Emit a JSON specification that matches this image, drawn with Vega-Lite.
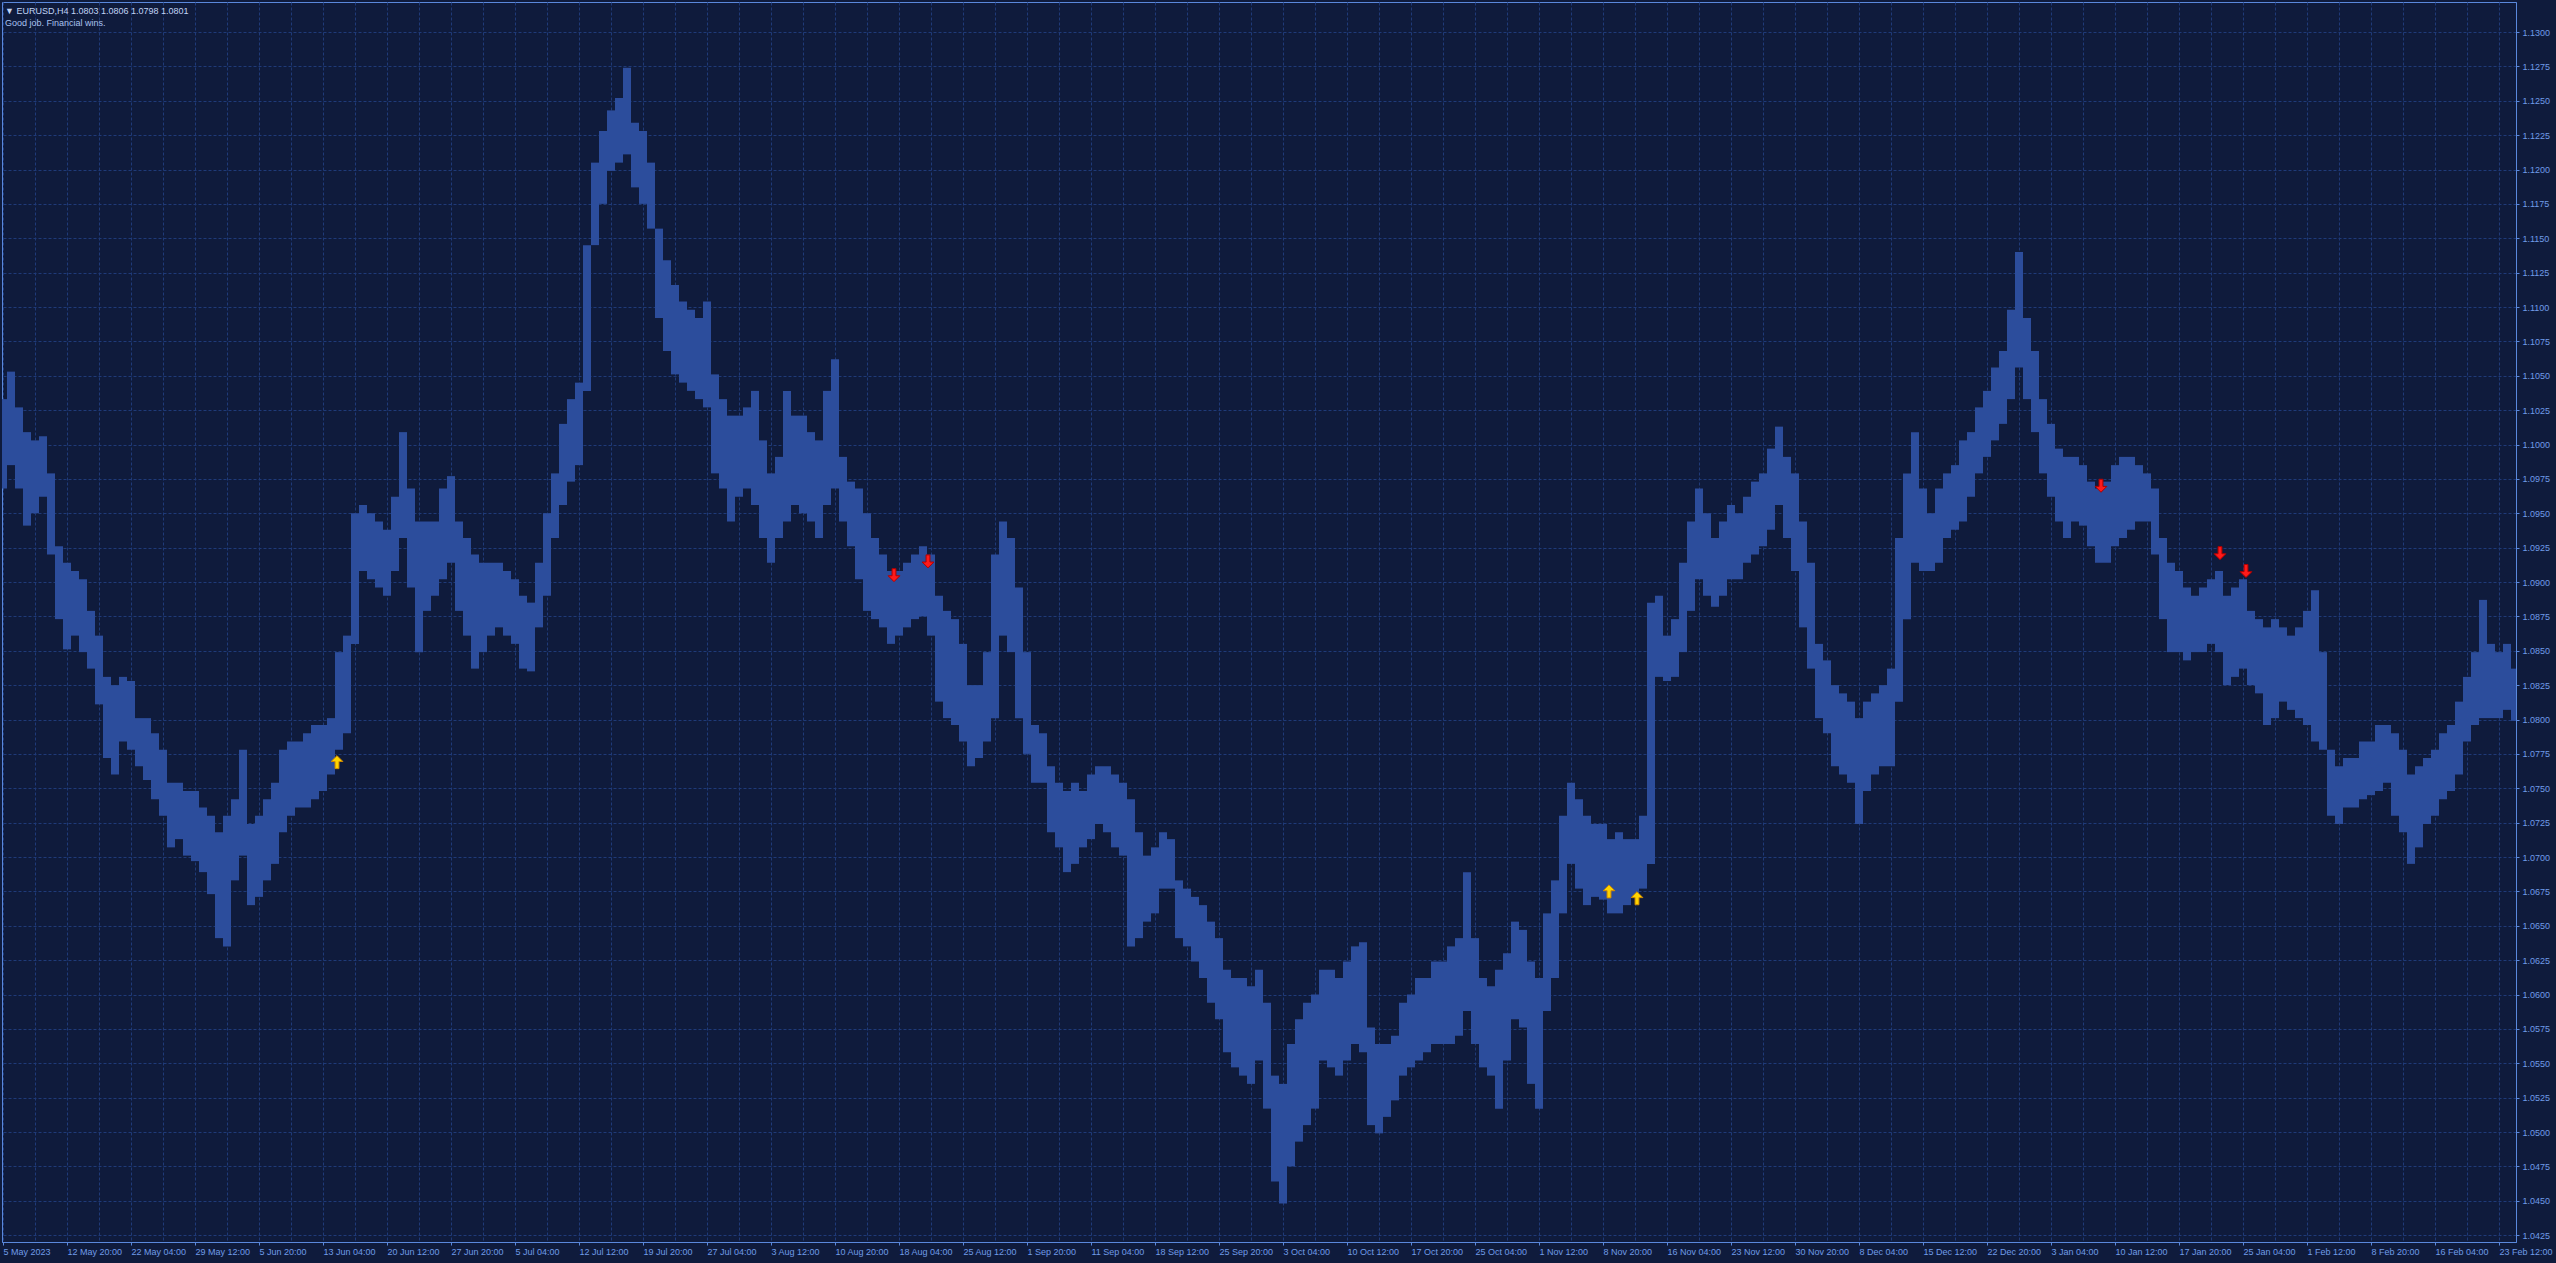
{
"$schema": "https://vega.github.io/schema/vega-lite/v6.json",
"width": 2514, "height": 1240,
"autosize": {"type": "none"},
"padding": {"left": 2, "top": 2, "right": 40, "bottom": 21},
"background": "#0f1b3c",
"config": {"view": {"stroke": "#5a88dc", "strokeWidth": 1}, "font": "Liberation Sans"},
"title": {"text": "▼  EURUSD,H4  1.0803 1.0806 1.0798 1.0801", "subtitle": "Good job. Financial wins.", "anchor": "start", "orient": "top", "frame": "group", "offset": -26, "dx": 3, "font": "Liberation Sans", "fontSize": 9, "fontWeight": "normal", "color": "#c0d4f5", "subtitleFont": "Liberation Sans", "subtitleFontSize": 9, "subtitleColor": "#a9c2f0", "subtitlePadding": 3},
"datasets": {
"bars": [
{"i":0,"hi":1.1033,"lo":1.0968},{"i":4,"hi":1.1053,"lo":1.0985},{"i":8,"hi":1.1027,"lo":1.0968},{"i":12,"hi":1.1009,"lo":1.0941},
{"i":16,"hi":1.1003,"lo":1.0950},{"i":20,"hi":1.1006,"lo":1.0962},{"i":24,"hi":1.0979,"lo":1.0920},{"i":28,"hi":1.0926,"lo":1.0873},
{"i":32,"hi":1.0914,"lo":1.0851},{"i":36,"hi":1.0908,"lo":1.0861},{"i":40,"hi":1.0902,"lo":1.0849},{"i":44,"hi":1.0879,"lo":1.0837},
{"i":48,"hi":1.0861,"lo":1.0811},{"i":52,"hi":1.0831,"lo":1.0772},{"i":56,"hi":1.0825,"lo":1.0760},{"i":60,"hi":1.0831,"lo":1.0784},
{"i":64,"hi":1.0828,"lo":1.0778},{"i":68,"hi":1.0801,"lo":1.0766},{"i":72,"hi":1.0801,"lo":1.0756},{"i":76,"hi":1.0790,"lo":1.0742},
{"i":80,"hi":1.0778,"lo":1.0730},{"i":84,"hi":1.0754,"lo":1.0707},{"i":88,"hi":1.0754,"lo":1.0713},{"i":92,"hi":1.0748,"lo":1.0701},
{"i":96,"hi":1.0748,"lo":1.0697},{"i":100,"hi":1.0736,"lo":1.0689},{"i":104,"hi":1.0730,"lo":1.0673},{"i":108,"hi":1.0718,"lo":1.0641},
{"i":112,"hi":1.0730,"lo":1.0635},{"i":116,"hi":1.0742,"lo":1.0683},{"i":120,"hi":1.0778,"lo":1.0701},{"i":124,"hi":1.0724,"lo":1.0665},
{"i":128,"hi":1.0730,"lo":1.0671},{"i":132,"hi":1.0742,"lo":1.0683},{"i":136,"hi":1.0754,"lo":1.0695},{"i":140,"hi":1.0778,"lo":1.0718},
{"i":144,"hi":1.0784,"lo":1.0730},{"i":148,"hi":1.0784,"lo":1.0736},{"i":152,"hi":1.0790,"lo":1.0736},{"i":156,"hi":1.0796,"lo":1.0742},
{"i":160,"hi":1.0796,"lo":1.0748},{"i":164,"hi":1.0801,"lo":1.0760},{"i":168,"hi":1.0849,"lo":1.0778},{"i":172,"hi":1.0861,"lo":1.0790},
{"i":176,"hi":1.0950,"lo":1.0855},{"i":180,"hi":1.0956,"lo":1.0908},{"i":184,"hi":1.0950,"lo":1.0902},{"i":188,"hi":1.0944,"lo":1.0896},
{"i":192,"hi":1.0938,"lo":1.0890},{"i":196,"hi":1.0962,"lo":1.0908},{"i":200,"hi":1.1009,"lo":1.0932},{"i":204,"hi":1.0968,"lo":1.0896},
{"i":208,"hi":1.0944,"lo":1.0849},{"i":212,"hi":1.0944,"lo":1.0879},{"i":216,"hi":1.0944,"lo":1.0890},{"i":220,"hi":1.0968,"lo":1.0902},
{"i":224,"hi":1.0977,"lo":1.0914},{"i":228,"hi":1.0944,"lo":1.0879},{"i":232,"hi":1.0932,"lo":1.0861},{"i":236,"hi":1.0920,"lo":1.0837},
{"i":240,"hi":1.0914,"lo":1.0849},{"i":244,"hi":1.0914,"lo":1.0861},{"i":248,"hi":1.0914,"lo":1.0867},{"i":252,"hi":1.0908,"lo":1.0861},
{"i":256,"hi":1.0902,"lo":1.0855},{"i":260,"hi":1.0890,"lo":1.0837},{"i":264,"hi":1.0885,"lo":1.0835},{"i":268,"hi":1.0914,"lo":1.0867},
{"i":272,"hi":1.0950,"lo":1.0890},{"i":276,"hi":1.0979,"lo":1.0932},{"i":280,"hi":1.1015,"lo":1.0956},{"i":284,"hi":1.1033,"lo":1.0973},
{"i":288,"hi":1.1045,"lo":1.0985},{"i":292,"hi":1.1145,"lo":1.1039},{"i":296,"hi":1.1205,"lo":1.1145},{"i":300,"hi":1.1228,"lo":1.1175},
{"i":304,"hi":1.1243,"lo":1.1199},{"i":308,"hi":1.1252,"lo":1.1205},{"i":312,"hi":1.1274,"lo":1.1211},{"i":316,"hi":1.1234,"lo":1.1187},
{"i":320,"hi":1.1228,"lo":1.1175},{"i":324,"hi":1.1205,"lo":1.1157},{"i":328,"hi":1.1157,"lo":1.1092},{"i":332,"hi":1.1134,"lo":1.1068},
{"i":336,"hi":1.1116,"lo":1.1051},{"i":340,"hi":1.1104,"lo":1.1045},{"i":344,"hi":1.1098,"lo":1.1039},{"i":348,"hi":1.1092,"lo":1.1033},
{"i":352,"hi":1.1104,"lo":1.1027},{"i":356,"hi":1.1051,"lo":1.0979},{"i":360,"hi":1.1033,"lo":1.0968},{"i":364,"hi":1.1021,"lo":1.0944},
{"i":368,"hi":1.1021,"lo":1.0962},{"i":372,"hi":1.1027,"lo":1.0968},{"i":376,"hi":1.1039,"lo":1.0956},{"i":380,"hi":1.1003,"lo":1.0932},
{"i":384,"hi":1.0979,"lo":1.0914},{"i":388,"hi":1.0991,"lo":1.0932},{"i":392,"hi":1.1039,"lo":1.0944},{"i":396,"hi":1.1021,"lo":1.0956},
{"i":400,"hi":1.1021,"lo":1.0950},{"i":404,"hi":1.1009,"lo":1.0944},{"i":408,"hi":1.1003,"lo":1.0932},{"i":412,"hi":1.1039,"lo":1.0956},
{"i":416,"hi":1.1062,"lo":1.0968},{"i":420,"hi":1.0991,"lo":1.0944},{"i":424,"hi":1.0973,"lo":1.0926},{"i":428,"hi":1.0968,"lo":1.0902},
{"i":432,"hi":1.0950,"lo":1.0879},{"i":436,"hi":1.0932,"lo":1.0873},{"i":440,"hi":1.0920,"lo":1.0867},{"i":444,"hi":1.0908,"lo":1.0855},
{"i":448,"hi":1.0908,"lo":1.0861},{"i":452,"hi":1.0914,"lo":1.0867},{"i":456,"hi":1.0920,"lo":1.0873},{"i":460,"hi":1.0926,"lo":1.0875},
{"i":464,"hi":1.0920,"lo":1.0861},{"i":468,"hi":1.0890,"lo":1.0813},{"i":472,"hi":1.0879,"lo":1.0801},{"i":476,"hi":1.0873,"lo":1.0796},
{"i":480,"hi":1.0855,"lo":1.0784},{"i":484,"hi":1.0825,"lo":1.0766},{"i":488,"hi":1.0825,"lo":1.0772},{"i":492,"hi":1.0849,"lo":1.0784},
{"i":496,"hi":1.0920,"lo":1.0801},{"i":500,"hi":1.0944,"lo":1.0861},{"i":504,"hi":1.0932,"lo":1.0849},{"i":508,"hi":1.0896,"lo":1.0801},
{"i":512,"hi":1.0849,"lo":1.0775},{"i":516,"hi":1.0796,"lo":1.0754},{"i":520,"hi":1.0790,"lo":1.0754},{"i":524,"hi":1.0766,"lo":1.0718},
{"i":528,"hi":1.0754,"lo":1.0707},{"i":532,"hi":1.0748,"lo":1.0689},{"i":536,"hi":1.0754,"lo":1.0695},{"i":540,"hi":1.0748,"lo":1.0707},
{"i":544,"hi":1.0760,"lo":1.0713},{"i":548,"hi":1.0766,"lo":1.0724},{"i":552,"hi":1.0766,"lo":1.0718},{"i":556,"hi":1.0760,"lo":1.0707},
{"i":560,"hi":1.0754,"lo":1.0701},{"i":564,"hi":1.0742,"lo":1.0635},{"i":568,"hi":1.0718,"lo":1.0641},{"i":572,"hi":1.0701,"lo":1.0653},
{"i":576,"hi":1.0707,"lo":1.0659},{"i":580,"hi":1.0718,"lo":1.0677},{"i":584,"hi":1.0713,"lo":1.0677},{"i":588,"hi":1.0683,"lo":1.0641},
{"i":592,"hi":1.0677,"lo":1.0635},{"i":596,"hi":1.0671,"lo":1.0624},{"i":600,"hi":1.0665,"lo":1.0612},{"i":604,"hi":1.0653,"lo":1.0594},
{"i":608,"hi":1.0641,"lo":1.0582},{"i":612,"hi":1.0618,"lo":1.0558},{"i":616,"hi":1.0612,"lo":1.0547},{"i":620,"hi":1.0612,"lo":1.0541},
{"i":624,"hi":1.0606,"lo":1.0535},{"i":628,"hi":1.0618,"lo":1.0552},{"i":632,"hi":1.0594,"lo":1.0517},{"i":636,"hi":1.0541,"lo":1.0464},
{"i":640,"hi":1.0535,"lo":1.0448},{"i":644,"hi":1.0564,"lo":1.0475},{"i":648,"hi":1.0582,"lo":1.0493},{"i":652,"hi":1.0594,"lo":1.0505},
{"i":656,"hi":1.0600,"lo":1.0517},{"i":660,"hi":1.0618,"lo":1.0552},{"i":664,"hi":1.0618,"lo":1.0547},{"i":668,"hi":1.0612,"lo":1.0541},
{"i":672,"hi":1.0624,"lo":1.0552},{"i":676,"hi":1.0635,"lo":1.0564},{"i":680,"hi":1.0638,"lo":1.0558},{"i":684,"hi":1.0576,"lo":1.0505},
{"i":688,"hi":1.0564,"lo":1.0499},{"i":692,"hi":1.0564,"lo":1.0511},{"i":696,"hi":1.0570,"lo":1.0523},{"i":700,"hi":1.0594,"lo":1.0541},
{"i":704,"hi":1.0600,"lo":1.0547},{"i":708,"hi":1.0612,"lo":1.0552},{"i":712,"hi":1.0612,"lo":1.0558},{"i":716,"hi":1.0624,"lo":1.0564},
{"i":720,"hi":1.0624,"lo":1.0564},{"i":724,"hi":1.0635,"lo":1.0564},{"i":728,"hi":1.0641,"lo":1.0570},{"i":732,"hi":1.0689,"lo":1.0588},
{"i":736,"hi":1.0641,"lo":1.0564},{"i":740,"hi":1.0612,"lo":1.0547},{"i":744,"hi":1.0606,"lo":1.0541},{"i":748,"hi":1.0618,"lo":1.0517},
{"i":752,"hi":1.0630,"lo":1.0552},{"i":756,"hi":1.0653,"lo":1.0582},{"i":760,"hi":1.0647,"lo":1.0576},{"i":764,"hi":1.0624,"lo":1.0535},
{"i":768,"hi":1.0612,"lo":1.0517},{"i":772,"hi":1.0659,"lo":1.0588},{"i":776,"hi":1.0683,"lo":1.0612},{"i":780,"hi":1.0730,"lo":1.0659},
{"i":784,"hi":1.0754,"lo":1.0695},{"i":788,"hi":1.0742,"lo":1.0677},{"i":792,"hi":1.0730,"lo":1.0665},{"i":796,"hi":1.0724,"lo":1.0671},
{"i":800,"hi":1.0724,"lo":1.0669},{"i":804,"hi":1.0713,"lo":1.0659},{"i":808,"hi":1.0718,"lo":1.0659},{"i":812,"hi":1.0713,"lo":1.0665},
{"i":816,"hi":1.0713,"lo":1.0671},{"i":820,"hi":1.0730,"lo":1.0677},{"i":824,"hi":1.0885,"lo":1.0695},{"i":828,"hi":1.0890,"lo":1.0831},
{"i":832,"hi":1.0861,"lo":1.0828},{"i":836,"hi":1.0873,"lo":1.0831},{"i":840,"hi":1.0914,"lo":1.0849},{"i":844,"hi":1.0944,"lo":1.0879},
{"i":848,"hi":1.0968,"lo":1.0902},{"i":852,"hi":1.0950,"lo":1.0890},{"i":856,"hi":1.0932,"lo":1.0882},{"i":860,"hi":1.0944,"lo":1.0890},
{"i":864,"hi":1.0956,"lo":1.0902},{"i":868,"hi":1.0950,"lo":1.0902},{"i":872,"hi":1.0962,"lo":1.0914},{"i":876,"hi":1.0973,"lo":1.0920},
{"i":880,"hi":1.0979,"lo":1.0926},{"i":884,"hi":1.0997,"lo":1.0938},{"i":888,"hi":1.1013,"lo":1.0956},{"i":892,"hi":1.0991,"lo":1.0932},
{"i":896,"hi":1.0979,"lo":1.0908},{"i":900,"hi":1.0944,"lo":1.0867},{"i":904,"hi":1.0914,"lo":1.0837},{"i":908,"hi":1.0855,"lo":1.0801},
{"i":912,"hi":1.0843,"lo":1.0790},{"i":916,"hi":1.0825,"lo":1.0766},{"i":920,"hi":1.0819,"lo":1.0760},{"i":924,"hi":1.0813,"lo":1.0754},
{"i":928,"hi":1.0801,"lo":1.0724},{"i":932,"hi":1.0813,"lo":1.0748},{"i":936,"hi":1.0819,"lo":1.0760},{"i":940,"hi":1.0825,"lo":1.0766},
{"i":944,"hi":1.0837,"lo":1.0766},{"i":948,"hi":1.0932,"lo":1.0813},{"i":952,"hi":1.0979,"lo":1.0873},{"i":956,"hi":1.1009,"lo":1.0914},
{"i":960,"hi":1.0968,"lo":1.0908},{"i":964,"hi":1.0950,"lo":1.0908},{"i":968,"hi":1.0968,"lo":1.0914},{"i":972,"hi":1.0979,"lo":1.0932},
{"i":976,"hi":1.0985,"lo":1.0938},{"i":980,"hi":1.1003,"lo":1.0944},{"i":984,"hi":1.1009,"lo":1.0962},{"i":988,"hi":1.1027,"lo":1.0979},
{"i":992,"hi":1.1039,"lo":1.0991},{"i":996,"hi":1.1056,"lo":1.1003},{"i":1000,"hi":1.1068,"lo":1.1015},{"i":1004,"hi":1.1098,"lo":1.1033},
{"i":1008,"hi":1.1140,"lo":1.1056},{"i":1012,"hi":1.1092,"lo":1.1033},{"i":1016,"hi":1.1068,"lo":1.1009},{"i":1020,"hi":1.1033,"lo":1.0979},
{"i":1024,"hi":1.1015,"lo":1.0962},{"i":1028,"hi":1.0997,"lo":1.0944},{"i":1032,"hi":1.0991,"lo":1.0932},{"i":1036,"hi":1.0991,"lo":1.0944},
{"i":1040,"hi":1.0985,"lo":1.0941},{"i":1044,"hi":1.0973,"lo":1.0926},{"i":1048,"hi":1.0968,"lo":1.0914},{"i":1052,"hi":1.0973,"lo":1.0914},
{"i":1056,"hi":1.0985,"lo":1.0926},{"i":1060,"hi":1.0991,"lo":1.0932},{"i":1064,"hi":1.0991,"lo":1.0938},{"i":1068,"hi":1.0985,"lo":1.0944},
{"i":1072,"hi":1.0979,"lo":1.0944},{"i":1076,"hi":1.0968,"lo":1.0920},{"i":1080,"hi":1.0932,"lo":1.0873},{"i":1084,"hi":1.0914,"lo":1.0849},
{"i":1088,"hi":1.0908,"lo":1.0849},{"i":1092,"hi":1.0896,"lo":1.0843},{"i":1096,"hi":1.0890,"lo":1.0849},{"i":1100,"hi":1.0896,"lo":1.0849},
{"i":1104,"hi":1.0902,"lo":1.0855},{"i":1108,"hi":1.0908,"lo":1.0849},{"i":1112,"hi":1.0890,"lo":1.0825},{"i":1116,"hi":1.0896,"lo":1.0831},
{"i":1120,"hi":1.0902,"lo":1.0837},{"i":1124,"hi":1.0879,"lo":1.0825},{"i":1128,"hi":1.0873,"lo":1.0819},{"i":1132,"hi":1.0867,"lo":1.0796},
{"i":1136,"hi":1.0873,"lo":1.0801},{"i":1140,"hi":1.0867,"lo":1.0813},{"i":1144,"hi":1.0861,"lo":1.0807},{"i":1148,"hi":1.0867,"lo":1.0801},
{"i":1152,"hi":1.0879,"lo":1.0796},{"i":1156,"hi":1.0894,"lo":1.0784},{"i":1160,"hi":1.0849,"lo":1.0778},{"i":1164,"hi":1.0778,"lo":1.0730},
{"i":1168,"hi":1.0766,"lo":1.0724},{"i":1172,"hi":1.0772,"lo":1.0736},{"i":1176,"hi":1.0772,"lo":1.0736},{"i":1180,"hi":1.0784,"lo":1.0742},
{"i":1184,"hi":1.0784,"lo":1.0745},{"i":1188,"hi":1.0796,"lo":1.0748},{"i":1192,"hi":1.0796,"lo":1.0754},{"i":1196,"hi":1.0790,"lo":1.0730},
{"i":1200,"hi":1.0778,"lo":1.0718},{"i":1204,"hi":1.0760,"lo":1.0695},{"i":1208,"hi":1.0766,"lo":1.0707},{"i":1212,"hi":1.0772,"lo":1.0724},
{"i":1216,"hi":1.0778,"lo":1.0730},{"i":1220,"hi":1.0790,"lo":1.0742},{"i":1224,"hi":1.0796,"lo":1.0748},{"i":1228,"hi":1.0813,"lo":1.0760},
{"i":1232,"hi":1.0831,"lo":1.0784},{"i":1236,"hi":1.0849,"lo":1.0796},{"i":1240,"hi":1.0887,"lo":1.0801},{"i":1244,"hi":1.0855,"lo":1.0801},
{"i":1248,"hi":1.0849,"lo":1.0801},{"i":1252,"hi":1.0855,"lo":1.0807},{"i":1256,"hi":1.0837,"lo":1.0799}
],
"up": [{"i":167,"p":1.0769},{"i":803,"p":1.0675},{"i":817,"p":1.0670}],
"down": [{"i":445.5,"p":1.0905},{"i":462.5,"p":1.0915},{"i":1049,"p":1.0970},{"i":1108.5,"p":1.0921},{"i":1121.5,"p":1.0908}]
},
"layer": [
{"data": {"name": "bars"},
 "mark": {"type": "rule", "color": "#2c4d9c", "strokeWidth": 8, "strokeCap": "butt", "clip": true},
 "encoding": {
  "x": {"field": "i", "type": "quantitative", "scale": {"domain": [-0.5, 1256.5], "nice": false, "zero": false},
   "axis": {"orient": "bottom", "title": null, "tickCount": 500, "values": [0,16,32,48,64,80,96,112,128,144,160,176,192,208,224,240,256,272,288,304,320,336,352,368,384,400,416,432,448,464,480,496,512,528,544,560,576,592,608,624,640,656,672,688,704,720,736,752,768,784,800,816,832,848,864,880,896,912,928,944,960,976,992,1008,1024,1040,1056,1072,1088,1104,1120,1136,1152,1168,1184,1200,1216,1232,1248],
    "grid": true, "gridColor": "#1f3a78", "gridDash": [3, 2],
    "labelExpr": "datum.value % 32 == 0 ? ['5 May 2023','12 May 20:00','22 May 04:00','29 May 12:00','5 Jun 20:00','13 Jun 04:00','20 Jun 12:00','27 Jun 20:00','5 Jul 04:00','12 Jul 12:00','19 Jul 20:00','27 Jul 04:00','3 Aug 12:00','10 Aug 20:00','18 Aug 04:00','25 Aug 12:00','1 Sep 20:00','11 Sep 04:00','18 Sep 12:00','25 Sep 20:00','3 Oct 04:00','10 Oct 12:00','17 Oct 20:00','25 Oct 04:00','1 Nov 12:00','8 Nov 20:00','16 Nov 04:00','23 Nov 12:00','30 Nov 20:00','8 Dec 04:00','15 Dec 12:00','22 Dec 20:00','3 Jan 04:00','10 Jan 12:00','17 Jan 20:00','25 Jan 04:00','1 Feb 12:00','8 Feb 20:00','16 Feb 04:00','23 Feb 12:00'][round(datum.value/32)] : ''",
    "tickOpacity": {"condition": {"test": "datum.value % 32 == 0", "value": 1}, "value": 0},
    "labelAlign": "left", "labelBaseline": "top", "labelPadding": 2, "tickSize": 3, "tickColor": "#5a88dc", "domainColor": "#5a88dc", "labelColor": "#6f9ce8", "labelFont": "Liberation Sans", "labelFontSize": 9, "labelFlush": false, "labelOverlap": false, "labelBound": false}},
  "y": {"field": "lo", "type": "quantitative", "scale": {"domain": [1.042, 1.132182], "nice": false, "zero": false},
   "axis": {"orient": "right", "title": null, "tickCount": 500, "values": [1.0425,1.045,1.0475,1.05,1.0525,1.055,1.0575,1.06,1.0625,1.065,1.0675,1.07,1.0725,1.075,1.0775,1.08,1.0825,1.085,1.0875,1.09,1.0925,1.095,1.0975,1.1,1.1025,1.105,1.1075,1.11,1.1125,1.115,1.1175,1.12,1.1225,1.125,1.1275,1.13],
    "format": ".4f", "grid": true, "gridColor": "#1f3a78", "gridDash": [3, 2], "tickSize": 3, "tickColor": "#5a88dc", "domainColor": "#5a88dc", "labelPadding": 3, "labelColor": "#6f9ce8", "labelFont": "Liberation Sans", "labelFontSize": 9, "labelFlush": false, "labelOverlap": false}},
  "y2": {"field": "hi"}}},
{"mark": {"type": "rule", "color": "#2d4f9c", "strokeWidth": 1},
 "encoding": {"y": {"datum": 1.0801, "type": "quantitative"}}},
{"data": {"name": "up"},
 "mark": {"type": "point", "filled": true, "shape": "M0,-1L0.9,-0.1L0.3,-0.1L0.3,1L-0.3,1L-0.3,-0.1L-0.9,-0.1Z", "size": 169, "fill": "#ffd400", "stroke": "#d08a00", "strokeWidth": 1, "opacity": 1},
 "encoding": {
  "x": {"field": "i", "type": "quantitative"},
  "y": {"field": "p", "type": "quantitative"}}},
{"data": {"name": "down"},
 "mark": {"type": "point", "filled": true, "shape": "M0,1L0.9,0.1L0.3,0.1L0.3,-1L-0.3,-1L-0.3,0.1L-0.9,0.1Z", "size": 169, "fill": "#ff1a1a", "stroke": "#b00000", "strokeWidth": 1, "opacity": 1},
 "encoding": {
  "x": {"field": "i", "type": "quantitative"},
  "y": {"field": "p", "type": "quantitative"}}},
{"mark": {"type": "rect", "color": "#5d8fe8"},
 "encoding": {
  "x": {"datum": 1257, "type": "quantitative"}, "x2": {"datum": 1275.5},
  "y": {"datum": 1.08048, "type": "quantitative"}, "y2": {"datum": 1.07972}}},
{"mark": {"type": "text", "color": "#0f1b3c", "font": "Liberation Sans", "fontSize": 9, "align": "left", "baseline": "middle"},
 "encoding": {
  "x": {"datum": 1259.5, "type": "quantitative"},
  "y": {"datum": 1.0801, "type": "quantitative"},
  "text": {"value": "1.0801"}}}
]
}
